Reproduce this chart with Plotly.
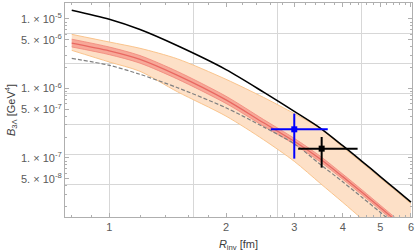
import math
import plotly.graph_objects as go

# ---------------- data ----------------
R = [0.8, 1.0, 1.2, 1.5, 2.0, 2.5, 3.0, 3.5, 4.0, 4.5, 5.0, 5.5, 6.0]

black_line = [1.33e-5, 9.87e-6, 7.02e-6, 4.10e-6, 1.865e-6, 8.85e-7, 4.68e-7,
              2.69e-7, 1.50e-7, 8.79e-8, 5.40e-8, 3.46e-8, 2.31e-8]
red_center = [4.49e-6, 3.475e-6, 2.62e-6, 1.543e-6, 6.85e-7, 3.20e-7, 1.734e-7,
              9.65e-8, 5.38e-8, 3.15e-8, 1.934e-8, 1.24e-8, 8.28e-9]
red_hi = [5.11e-6, 3.94e-6, 2.97e-6, 1.75e-6, 7.72e-7, 3.57e-7, 1.914e-7,
          1.059e-7, 5.86e-8, 3.42e-8, 2.09e-8, 1.34e-8, 8.91e-9]
red_lo = [3.95e-6, 3.06e-6, 2.31e-6, 1.36e-6, 6.08e-7, 2.87e-7, 1.571e-7,
          8.80e-8, 4.94e-8, 2.90e-8, 1.786e-8, 1.149e-8, 7.70e-9]
orange_hi = [6.00e-6, 4.65e-6, 3.776e-6, 2.657e-6, 1.352e-6, 7.42e-7, 4.34e-7,
             2.65e-7, 1.430e-7, 8.37e-8, 5.13e-8, 3.30e-8, 2.20e-8]
orange_lo = [3.53e-6, 2.40e-6, 1.762e-6, 8.93e-7, 3.995e-7, 1.828e-7, 8.93e-8,
             4.31e-8, 2.30e-8, 1.307e-8, 7.95e-9, 5.01e-9, 3.25e-9]
dashed_line = [2.71e-6, 2.15e-6, 1.596e-6, 1.023e-6, 5.26e-7, 2.79e-7, 1.596e-7,
               8.09e-8, 4.53e-8, 2.67e-8, 1.650e-8, 1.055e-8, 6.97e-9]

# data points
blue_pt = dict(x=3.0, y=2.58e-7, xlo=2.61, xhi=3.66, ylo=9.77e-8, yhi=4.34e-7)
black_pt = dict(x=3.53, y=1.36e-7, xlo=3.07, xhi=4.37, ylo=7.25e-8, yhi=2.0e-7)

x_ticks = [1, 2, 3, 4, 5, 6]
y_ticks = [1e-5, 5e-6, 1e-6, 5e-7, 1e-7, 5e-8]
y_ticktext = ["1. × 10<sup>-5</sup>", "5. × 10<sup>-6</sup>", "1. × 10<sup>-6</sup>",
              "5. × 10<sup>-7</sup>", "1. × 10<sup>-7</sup>", "5. × 10<sup>-8</sup>"]
x_grid = [math.exp(k) for k in (0, 0.5, 1.0, 1.5)]
y_grid = [math.exp(k) for k in (-12, -13, -14, -15, -16, -17)]
x_minor = [0.8, 0.9, 1.2, 1.4, 1.6, 1.8, 2.2, 2.4, 2.6, 2.8, 3.2, 3.4, 3.6, 3.8,
           4.2, 4.4, 4.6, 4.8, 5.2, 5.4, 5.6, 5.8]
y_minor = [m * 10.0 ** e for e in (-8, -7, -6, -5) for m in (2, 3, 4, 6, 7, 8, 9)]

X_RANGE = [-0.1143, 0.7808]
Y_RANGE = [-7.850, -4.771]

# ---------------- figure ----------------
fig = go.Figure()

ORANGE_EDGE = "rgb(250,196,140)"
ORANGE_FILL = "rgb(253,224,199)"
RED_FILL = "rgb(247,168,152)"
RED_EDGE = "rgb(241,135,122)"
RED_LINE = "rgb(233,104,97)"
SPL = dict(shape="spline", smoothing=0.8)

fig.add_trace(go.Scatter(x=R, y=orange_lo, mode="lines",
                         line=dict(color=ORANGE_EDGE, width=1, **SPL), hoverinfo="skip"))
fig.add_trace(go.Scatter(x=R, y=orange_hi, mode="lines", fill="tonexty",
                         fillcolor=ORANGE_FILL,
                         line=dict(color=ORANGE_EDGE, width=1, **SPL), hoverinfo="skip"))
fig.add_trace(go.Scatter(x=R, y=red_lo, mode="lines",
                         line=dict(color=RED_EDGE, width=0.8, **SPL), hoverinfo="skip"))
fig.add_trace(go.Scatter(x=R, y=red_hi, mode="lines", fill="tonexty",
                         fillcolor=RED_FILL,
                         line=dict(color=RED_EDGE, width=0.8, **SPL), hoverinfo="skip"))
fig.add_trace(go.Scatter(x=R, y=red_center, mode="lines",
                         line=dict(color=RED_LINE, width=1.3, **SPL), hoverinfo="skip"))
fig.add_trace(go.Scatter(x=R, y=dashed_line, mode="lines",
                         line=dict(color="rgb(128,128,128)", width=1.2, dash="4px,2px", **SPL),
                         hoverinfo="skip"))
fig.add_trace(go.Scatter(x=R, y=black_line, mode="lines",
                         line=dict(color="black", width=1.6, **SPL), hoverinfo="skip"))

for pt, col in ((blue_pt, "rgb(0,0,255)"), (black_pt, "black")):
    fig.add_trace(go.Scatter(
        x=[pt["x"]], y=[pt["y"]], mode="markers",
        marker=dict(symbol="square", size=6, color=col),
        error_x=dict(type="data", symmetric=False,
                     array=[pt["xhi"] - pt["x"]], arrayminus=[pt["x"] - pt["xlo"]],
                     color=col, thickness=2, width=0),
        error_y=dict(type="data", symmetric=False,
                     array=[pt["yhi"] - pt["y"]], arrayminus=[pt["y"] - pt["ylo"]],
                     color=col, thickness=2, width=0),
        hoverinfo="skip"))

# invisible trace to hold the minor-tick overlay axes
fig.add_trace(go.Scatter(x=[1], y=[1e-6], xaxis="x2", yaxis="y2", mode="markers",
                         marker=dict(opacity=0), hoverinfo="skip"))

FRAME = "rgb(175,175,175)"
TICKFONT = dict(family="Liberation Sans, Arial, sans-serif", size=11, color="rgb(90,90,90)")
TITLEFONT = dict(family="Liberation Sans, Arial, sans-serif", size=11, color="rgb(60,60,60)")

fig.update_layout(
    width=415, height=252,
    margin=dict(l=65, r=3, t=3, b=35),
    paper_bgcolor="white", plot_bgcolor="white",
    showlegend=False,
    xaxis=dict(type="log", range=X_RANGE, tickmode="array", tickvals=x_ticks,
               ticktext=[str(v) for v in x_ticks], ticks="inside", ticklen=4,
               tickcolor=FRAME, tickwidth=1, showline=True, linecolor=FRAME,
               linewidth=1, mirror="allticks", showgrid=False, zeroline=False,
               tickfont=TICKFONT, automargin=False,
               minor=dict(tickmode="array", tickvals=x_grid, showgrid=True,
                          gridcolor="rgb(215,215,215)", gridwidth=1, ticks=""),
               title=dict(text="<i>R</i><sub>inv</sub> [fm]", font=TITLEFONT, standoff=9)),
    yaxis=dict(type="log", range=Y_RANGE, tickmode="array", tickvals=y_ticks,
               ticktext=y_ticktext, ticks="inside", ticklen=4,
               tickcolor=FRAME, tickwidth=1, showline=True, linecolor=FRAME,
               linewidth=1, mirror="allticks", showgrid=False, zeroline=False,
               tickfont=TICKFONT, automargin=False,
               minor=dict(tickmode="array", tickvals=y_grid, showgrid=True,
                          gridcolor="rgb(215,215,215)", gridwidth=1, ticks=""),
               title=dict(text="<i>B</i><sub>3Λ</sub> [GeV<sup>4</sup>]", font=TITLEFONT,
                          standoff=3)),
    xaxis2=dict(type="log", range=X_RANGE, overlaying="x", anchor="y2",
                tickmode="array", tickvals=x_minor, ticks="inside", ticklen=2,
                tickcolor=FRAME, showticklabels=False, showgrid=False, automargin=False,
                zeroline=False, showline=False, mirror="allticks"),
    yaxis2=dict(type="log", range=Y_RANGE, overlaying="y", anchor="x2",
                tickmode="array", tickvals=y_minor, ticks="inside", ticklen=2,
                tickcolor=FRAME, showticklabels=False, showgrid=False, automargin=False,
                zeroline=False, showline=False, mirror="allticks"),
)

fig.write_html("out.html", config={"displayModeBar": False},
               post_script="document.body.style.margin='0';document.body.style.padding='0';")
